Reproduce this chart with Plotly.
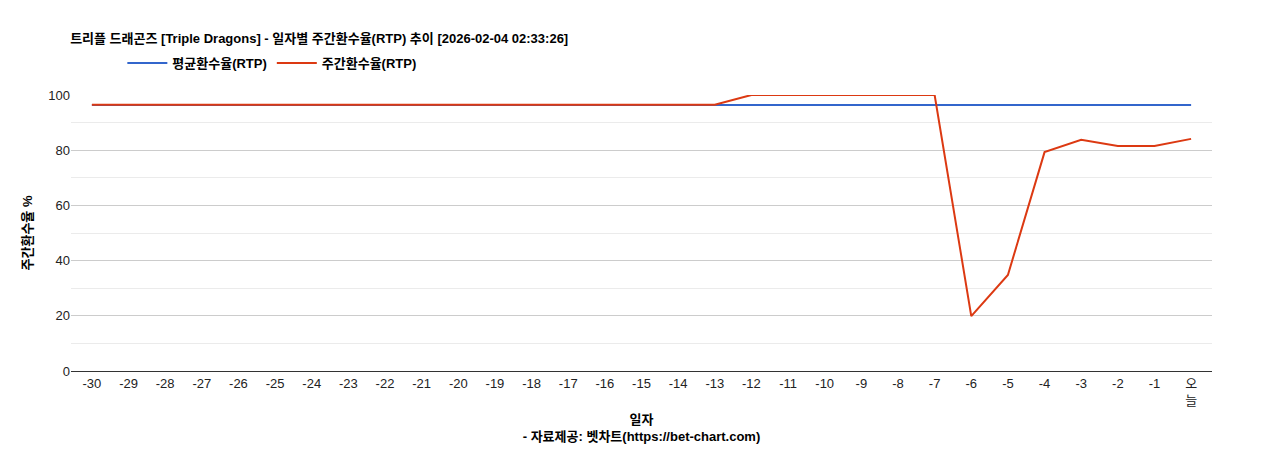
import plotly.graph_objects as go

days = [str(i) for i in range(-30, 0)] + ["오<br>늘"]
avg_rtp = [96.4] * 31
weekly_rtp = [96.5] * 18 + [100, 100, 100, 100, 100, 100, 19.9, 34.8, 79.3, 83.8, 81.5, 81.5, 84.1]

fig = go.Figure()
fig.add_trace(go.Scatter(x=days, y=avg_rtp, mode="lines", name="<b>평균환수율(RTP)</b>",
                         line=dict(color="#3366cc", width=2)))
fig.add_trace(go.Scatter(x=days, y=weekly_rtp, mode="lines", name="<b>주간환수율(RTP)</b>",
                         line=dict(color="#dc3912", width=2)))
fig.update_layout(
    width=1268, height=450, plot_bgcolor="white", paper_bgcolor="white",
    font=dict(family="Liberation Sans, Noto Sans CJK KR", size=13, color="#222"),
    title=dict(text="<b>트리플 드래곤즈 [Triple Dragons] - 일자별 주간환수율(RTP) 추이 [2026-02-04 02:33:26]</b>",
               x=0.049, xanchor="left", y=0.933, yanchor="middle", yref="container",
               font=dict(size=13, color="#000")),
    legend=dict(orientation="h", x=0.045, y=1.116, xanchor="left", yanchor="middle",
                font=dict(size=13, color="#000"), itemwidth=40),
    margin=dict(l=63, r=64, t=87, b=87, autoexpand=False),
    xaxis=dict(type="category", range=[-0.57, 30.57], showgrid=False, showline=True, linecolor="#333",
               ticks="", tickfont=dict(size=13, color="#222"), automargin=False,
               title=dict(text="<b>일자</b><br><b>- 자료제공: 벳차트(https://bet-chart.com)</b>",
                          font=dict(size=13, color="#000"), standoff=8)),
    yaxis=dict(range=[0, 100], tickvals=[0, 20, 40, 60, 80, 100], gridcolor="#cccccc",
               zeroline=False, tickfont=dict(size=13, color="#222"), automargin=False,
               minor=dict(tickvals=[10, 30, 50, 70, 90], gridcolor="#ebebeb", showgrid=True),
               title=dict(text="<b>주간환수율 %</b>", font=dict(size=13, color="#000"), standoff=12)),
    showlegend=True,
)
fig.write_html("out.html")
